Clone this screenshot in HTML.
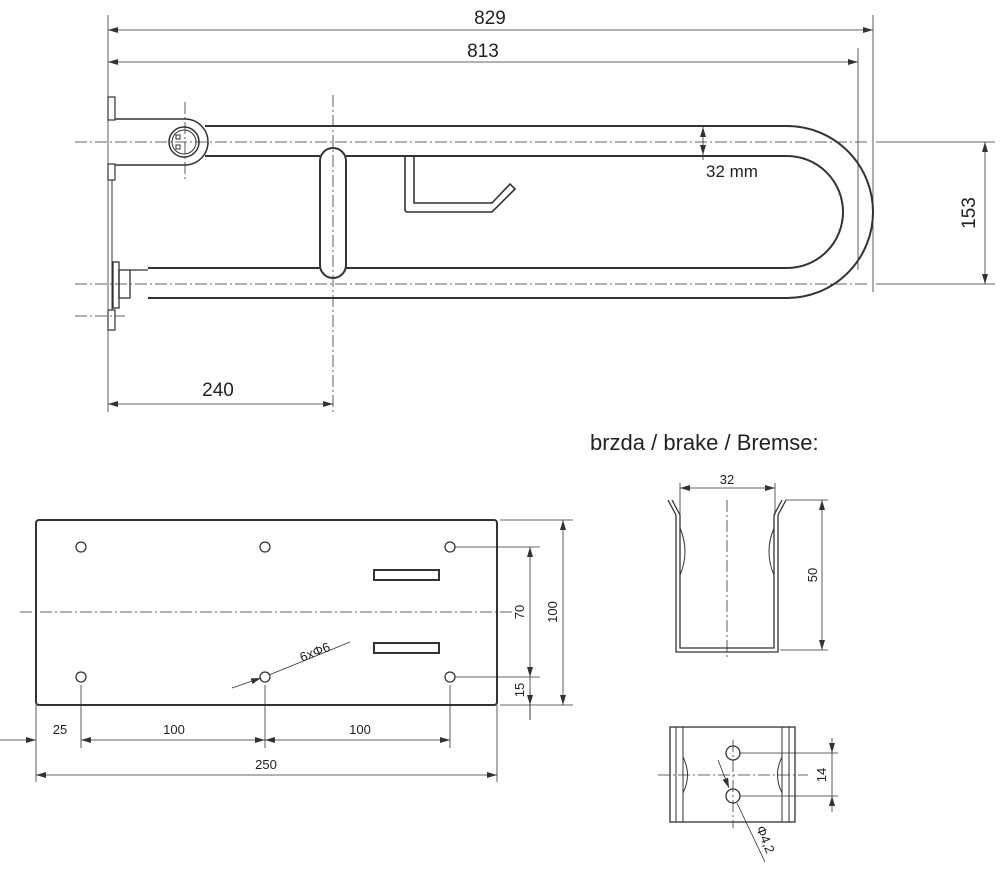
<!DOCTYPE html>
<html><head><meta charset="utf-8"><style>
html,body{margin:0;padding:0;background:#fff}
svg{display:block}
text{font-family:"Liberation Sans",sans-serif;fill:#222}
</style></head><body>
<svg width="1000" height="871" viewBox="0 0 1000 871" xmlns="http://www.w3.org/2000/svg">
<defs>
<marker id="a" viewBox="0 0 10 6" refX="10" refY="3" markerWidth="10" markerHeight="6" orient="auto-start-reverse" markerUnits="userSpaceOnUse"><path d="M0,0L10,3L0,6z" fill="#333"/></marker>
</defs>
<g stroke="#333" fill="none" stroke-width="1">
<!-- centerlines -->
<g stroke-dasharray="12,3,2,3" stroke-width="0.8">
<line x1="75" y1="142" x2="870" y2="142"/>
<line x1="75" y1="284" x2="870" y2="284"/>
<line x1="75" y1="316" x2="125" y2="316"/>
<line x1="333" y1="95" x2="333" y2="412"/>
<line x1="185" y1="102" x2="185" y2="182"/>
<line x1="20" y1="612" x2="512" y2="612"/>
<line x1="727" y1="500" x2="727" y2="660"/>
<line x1="658" y1="775" x2="808" y2="775"/>
<line x1="733" y1="740" x2="733" y2="828"/>
</g>
<!-- wall plate -->
<line x1="108" y1="15" x2="108" y2="412" stroke-width="0.8"/>
<rect x="108" y="97" width="7" height="23" stroke-width="1.2"/>
<rect x="108" y="164" width="7" height="16" stroke-width="1.2"/>
<rect x="108" y="310" width="7" height="20" stroke-width="1.2"/>
<line x1="112" y1="180" x2="112" y2="310"/>
<!-- upper bracket -->
<path d="M115 119 H185 A23 23 0 0 1 185 165 H115" stroke-width="1.5"/>
<circle cx="184" cy="142" r="15" stroke-width="1.5"/>
<circle cx="184" cy="142" r="12"/>
<rect x="176" y="135" width="4" height="4"/><rect x="176" y="145" width="4" height="4"/>
<!-- tubes + bend -->
<path d="M205 126 H787 A86 86 0 0 1 787 298 H148" stroke-width="2"/>
<path d="M205 156 H320 M346 156 H787 A56 56 0 0 1 787 268 H346 M320 268 H148" stroke-width="2"/>
<!-- lower flange -->
<rect x="113" y="262" width="6" height="46" stroke-width="1.3"/>
<rect x="119" y="270" width="11" height="28" stroke-width="1.3"/>
<line x1="130" y1="270" x2="148" y2="270" stroke-width="1.3"/>
<!-- handle -->
<rect x="320" y="148" width="26" height="130" rx="13" stroke-width="2"/>
<!-- hook -->
<path d="M405 157 V210 Q405 212 408 212 H492 L510 194 L515 189 L510 184 L492 203 H414 V157" stroke-width="1.6"/>
<!-- dims top -->
<line x1="873" y1="15" x2="873" y2="292" stroke-width="0.8"/>
<line x1="858" y1="48" x2="858" y2="270" stroke-width="0.8"/>
<line x1="108" y1="30" x2="873" y2="30" marker-start="url(#a)" marker-end="url(#a)" stroke-width="0.8"/>
<line x1="108" y1="62" x2="858" y2="62" marker-start="url(#a)" marker-end="url(#a)" stroke-width="0.8"/>
<line x1="703" y1="127" x2="703" y2="155" marker-start="url(#a)" marker-end="url(#a)" stroke-width="0.8"/>
<line x1="703" y1="155" x2="703" y2="160" stroke-width="0.8"/>
<line x1="876" y1="142" x2="995" y2="142" stroke-width="0.8"/>
<line x1="876" y1="284" x2="995" y2="284" stroke-width="0.8"/>
<line x1="985" y1="142" x2="985" y2="284" marker-start="url(#a)" marker-end="url(#a)" stroke-width="0.8"/>
<line x1="108" y1="404" x2="333" y2="404" marker-start="url(#a)" marker-end="url(#a)" stroke-width="0.8"/>
<!-- plate -->
<rect x="36" y="520" width="461" height="185" rx="3" stroke-width="2"/>
<g stroke-width="1.3">
<circle cx="81" cy="547" r="5"/><circle cx="265" cy="547" r="5"/><circle cx="450" cy="547" r="5"/>
<circle cx="81" cy="677" r="5"/><circle cx="265" cy="677" r="5"/><circle cx="450" cy="677" r="5"/>
</g>
<rect x="374" y="570" width="65" height="10" stroke-width="2"/>
<rect x="374" y="643" width="65" height="10" stroke-width="2"/>
<g stroke-width="0.8">
<line x1="455" y1="547" x2="540" y2="547"/>
<line x1="455" y1="677" x2="540" y2="677"/>
<line x1="500" y1="520" x2="573" y2="520"/>
<line x1="500" y1="705" x2="573" y2="705"/>
<line x1="530" y1="547" x2="530" y2="677" marker-start="url(#a)" marker-end="url(#a)"/>
<line x1="530" y1="677" x2="530" y2="720"/>
<line x1="530" y1="705" x2="530" y2="720" />
<line x1="530" y1="692" x2="530" y2="705" marker-end="url(#a)"/>
<line x1="563" y1="520" x2="563" y2="705" marker-start="url(#a)" marker-end="url(#a)"/>
<line x1="36" y1="705" x2="36" y2="782"/>
<line x1="497" y1="705" x2="497" y2="782"/>
<line x1="81" y1="685" x2="81" y2="748"/>
<line x1="265" y1="685" x2="265" y2="748"/>
<line x1="450" y1="685" x2="450" y2="748"/>
<line x1="0" y1="740" x2="36" y2="740" marker-end="url(#a)"/>
<line x1="81" y1="740" x2="265" y2="740" marker-start="url(#a)" marker-end="url(#a)"/>
<line x1="265" y1="740" x2="450" y2="740" marker-start="url(#a)" marker-end="url(#a)"/>
<line x1="36" y1="775" x2="497" y2="775" marker-start="url(#a)" marker-end="url(#a)"/>
<line x1="232" y1="688" x2="261" y2="678" marker-end="url(#a)"/>
<line x1="269" y1="675" x2="350" y2="642"/>
</g>
<!-- brake top -->
<path d="M668 500 L676 515 V652 H778 V515 L786 500" stroke-width="1.3"/>
<path d="M672 500 L680 515 V648 H774 V515 L782 500" stroke-width="1.3"/>
<path d="M680 528 Q690 552 680 575" /><path d="M774 528 Q764 552 774 575"/>
<g stroke-width="0.8">
<line x1="680" y1="483" x2="680" y2="515"/><line x1="775" y1="483" x2="775" y2="515"/>
<line x1="680" y1="488" x2="775" y2="488" marker-start="url(#a)" marker-end="url(#a)"/>
<line x1="786" y1="500" x2="828" y2="500"/><line x1="780" y1="650" x2="828" y2="650"/>
<line x1="822" y1="500" x2="822" y2="650" marker-start="url(#a)" marker-end="url(#a)"/>
</g>
<!-- brake bottom -->
<rect x="670" y="727" width="125" height="95" stroke-width="1.3"/>
<line x1="676" y1="727" x2="676" y2="822"/><line x1="683" y1="727" x2="683" y2="822"/>
<line x1="782" y1="727" x2="782" y2="822"/><line x1="789" y1="727" x2="789" y2="822"/>
<path d="M683 757 Q692 775 683 793"/><path d="M782 757 Q773 775 782 793"/>
<circle cx="733" cy="753" r="7" stroke-width="1.3"/>
<circle cx="733" cy="796" r="7" stroke-width="1.3"/>
<g stroke-width="0.8">
<line x1="740" y1="753" x2="838" y2="753"/><line x1="740" y1="796" x2="838" y2="796"/>
<line x1="832" y1="738" x2="832" y2="753" marker-end="url(#a)"/>
<line x1="832" y1="753" x2="832" y2="796"/>
<line x1="832" y1="812" x2="832" y2="796" marker-end="url(#a)"/>
<line x1="718" y1="760" x2="729" y2="788" marker-end="url(#a)"/>
<line x1="737" y1="803" x2="765" y2="862"/>
</g>
</g>
<!-- texts -->
<text x="490" y="24" font-size="19" text-anchor="middle">829</text>
<text x="483" y="57" font-size="19" text-anchor="middle">813</text>
<text x="706" y="177" font-size="17">32 mm</text>
<text x="0" y="0" font-size="19" text-anchor="middle" transform="translate(975,213) rotate(-90)">153</text>
<text x="218" y="396" font-size="19" text-anchor="middle">240</text>
<text x="590" y="450" font-size="22">brzda / brake / Bremse:</text>
<text x="727" y="484" font-size="13" text-anchor="middle">32</text>
<text x="0" y="0" font-size="13" text-anchor="middle" transform="translate(817,575) rotate(-90)">50</text>
<text x="0" y="0" font-size="13" text-anchor="middle" transform="translate(826,775) rotate(-90)">14</text>
<text x="0" y="0" font-size="13" transform="translate(756,828) rotate(68)">Φ4,2</text>
<text x="0" y="0" font-size="13" transform="translate(302,662) rotate(-22)">6xΦ6</text>
<text x="0" y="0" font-size="13" text-anchor="middle" transform="translate(524,612) rotate(-90)">70</text>
<text x="0" y="0" font-size="13" text-anchor="middle" transform="translate(557,612) rotate(-90)">100</text>
<text x="0" y="0" font-size="13" text-anchor="middle" transform="translate(524,690) rotate(-90)">15</text>
<text x="60" y="734" font-size="13" text-anchor="middle">25</text>
<text x="174" y="734" font-size="13" text-anchor="middle">100</text>
<text x="360" y="734" font-size="13" text-anchor="middle">100</text>
<text x="266" y="769" font-size="13" text-anchor="middle">250</text>
</svg>
</body></html>
